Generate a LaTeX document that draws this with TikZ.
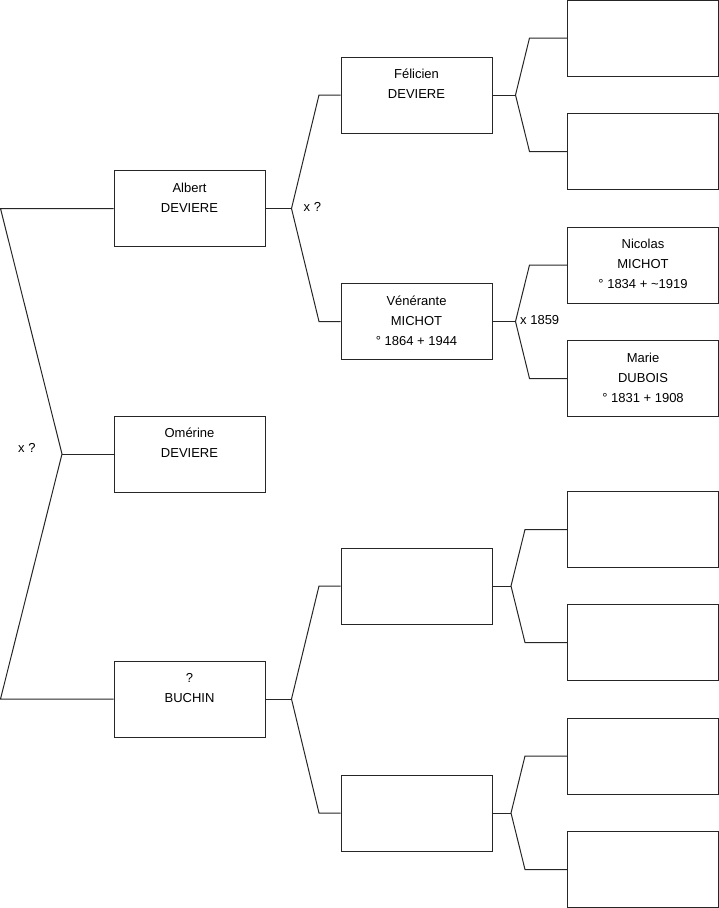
\documentclass[tikz,border=0pt]{standalone}
\usepackage{fontspec}
\setmainfont{Liberation Sans}
\begin{document}
\begin{tikzpicture}[x=1pt,y=-1pt,
  box/.style={draw=black!85, line width=1pt, minimum width=151pt, minimum height=76pt, inner sep=0pt},
  txt/.style={anchor=north, align=center, inner sep=0pt, font=\fontsize{13pt}{20pt}\selectfont},
  lbl/.style={anchor=west, inner sep=0pt, font=\fontsize{13pt}{15pt}\selectfont},
  conn/.style={draw=black!85, line width=1pt}]
\useasboundingbox (0,0) rectangle (719,908);
% boxes, generation 1
\node[box] (albert)  at (189.5,208.5) {};
\node[box] (omerine) at (189.5,454) {};
\node[box] (buchin)  at (189.5,699) {};
% generation 2
\node[box] (felicien) at (416.5,95) {};
\node[box] (venerante) at (416.5,321.5) {};
\node[box] (e1) at (416.5,586) {};
\node[box] (e2) at (416.5,813) {};
% generation 3
\node[box] (r1) at (643,38) {};
\node[box] (r2) at (643,151.5) {};
\node[box] (nicolas) at (643,265) {};
\node[box] (marie) at (643,378.5) {};
\node[box] (r5) at (643,529.5) {};
\node[box] (r6) at (643,642.5) {};
\node[box] (r7) at (643,756) {};
\node[box] (r8) at (643,869.5) {};
% texts
\node[txt] (albertT) at ([yshift=-12.5pt]albert.north) {Albert\\DEVIERE};
\node[txt] (omerineT) at ([yshift=-12.5pt]omerine.north) {Omérine\\DEVIERE};
\node[txt] (buchinT) at ([yshift=-12.5pt]buchin.north) {?\\BUCHIN};
\node[txt] (felicienT) at ([yshift=-12.5pt]felicien.north) {Félicien\\DEVIERE};
\node[txt] (veneranteT) at ([yshift=-12.5pt]venerante.north) {Vénérante\\MICHOT\\° 1864 + 1944};
\node[txt] (nicolasT) at ([yshift=-12.5pt]nicolas.north) {Nicolas\\MICHOT\\° 1834 + \textasciitilde 1919};
\node[txt] (marieT) at ([yshift=-12.5pt]marie.north) {Marie\\DUBOIS\\° 1831 + 1908};
% left bracket
\coordinate (l1) at (0.5,208.5);
\coordinate (l2) at (0.5,699);
\coordinate (j0) at (62,454);
\draw[conn] (albert.west) -- (l1) -- (j0) -- (l2) -- (buchin.west);
\draw[conn] (j0) -- (omerine.west);
\node[lbl] (x0) at (18,448) {x ?};
% Albert
\coordinate (j1) at (291.5,208.5);
\draw[conn] (albert.east) -- (j1);
\draw[conn] (felicien.west) -- (319,95) -- (j1) -- (319,321.5) -- (venerante.west);
\node[lbl] (x1) at (303.5,207) {x ?};
% Buchin
\coordinate (j2) at (291.5,699);
\draw[conn] (buchin.east) -- (j2);
\draw[conn] (e1.west) -- (319,586) -- (j2) -- (319,813) -- (e2.west);
% Felicien
\coordinate (j3) at (515.5,95);
\draw[conn] (felicien.east) -- (j3);
\draw[conn] (r1.west) -- (529.5,38) -- (j3) -- (529.5,151.5) -- (r2.west);
% Venerante
\coordinate (j4) at (515.5,321.5);
\draw[conn] (venerante.east) -- (j4);
\draw[conn] (nicolas.west) -- (529.5,265) -- (j4) -- (529.5,378.5) -- (marie.west);
\node[lbl] (x2) at (520,320) {x 1859};
% e1
\coordinate (j5) at (511,586);
\draw[conn] (e1.east) -- (j5);
\draw[conn] (r5.west) -- (525,529.5) -- (j5) -- (525,642.5) -- (r6.west);
% e2
\coordinate (j6) at (511,813);
\draw[conn] (e2.east) -- (j6);
\draw[conn] (r7.west) -- (525,756) -- (j6) -- (525,869.5) -- (r8.west);
\end{tikzpicture}
\end{document}
